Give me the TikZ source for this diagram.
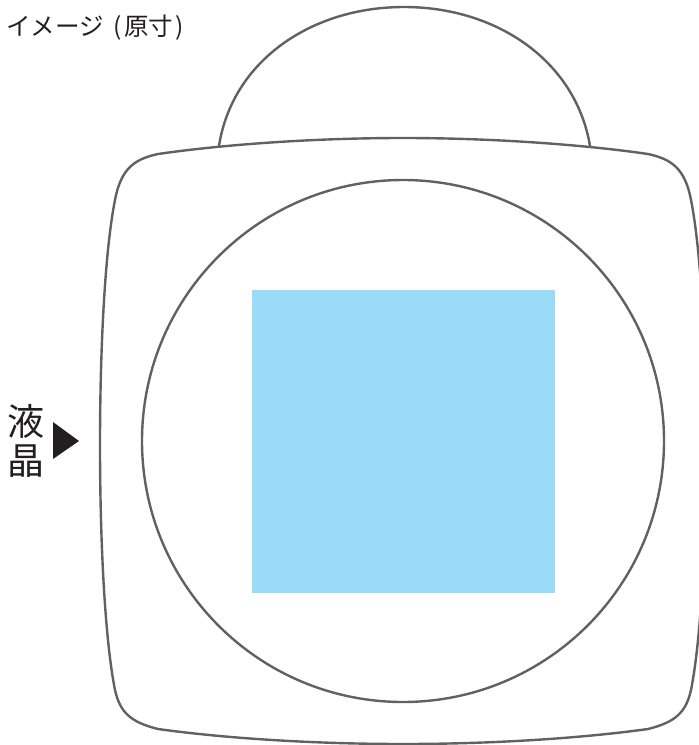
\documentclass[tikz,border=0pt]{standalone}
\usepackage{fontspec}
\newfontfamily\cjk{Noto Sans CJK JP}
\definecolor{linegray}{HTML}{616161}
\definecolor{lcd}{HTML}{9BDBF9}
\definecolor{markdark}{HTML}{231F20}
\tikzset{outline/.style={draw=linegray,line width=2.4pt},lbl/.style={inner sep=0pt,text=markdark}}
\begin{document}
\begin{tikzpicture}[x=1pt,y=-1pt]
\useasboundingbox (0,0) rectangle (699,745);
\begin{scope}
\clip (0,0) rectangle (699,745);
% dome
\draw[outline] (219,146) .. controls (232,62) and (310,7) .. (404,7) .. controls (498,7) and (576,62) .. (590,146);
% body
\draw[outline] (403,138) .. controls (496,138) and (586,145) .. (648,154)
 .. controls (671,159) and (685,168) .. (691,200)
 .. controls (711,300) and (711,590) .. (691,690)
 .. controls (686,712) and (676,722) .. (648,729)
 .. controls (576,739) and (486,744) .. (403,744)
 .. controls (320,744) and (230,739) .. (158,729)
 .. controls (130,722) and (120,712) .. (115,690)
 .. controls (95,590) and (95,300) .. (115,200)
 .. controls (121,168) and (135,159) .. (158,154)
 .. controls (220,145) and (310,138) .. (403,138) -- cycle;
\node[circle,outline,inner sep=0pt,minimum size=522pt] (lens) at (403,441) {};
\end{scope}
\fill[lcd] (252,290) rectangle (555,593);
\fill[markdark] (53,422) -- (79,441) -- (53,459) -- cycle;
\node[lbl,anchor=west,font=\cjk\fontsize{24.5}{25}\selectfont] (title) at (6,28) {イメージ\hspace{10pt}(\hspace{2.5pt}原寸\hspace{2.5pt})};
\node[lbl,font=\cjk\fontsize{37}{37}\selectfont] (t1) at (26,421) {液};
\node[lbl,font=\cjk\fontsize{37}{37}\selectfont] (t2) at (26,461) {晶};
\end{tikzpicture}
\end{document}
